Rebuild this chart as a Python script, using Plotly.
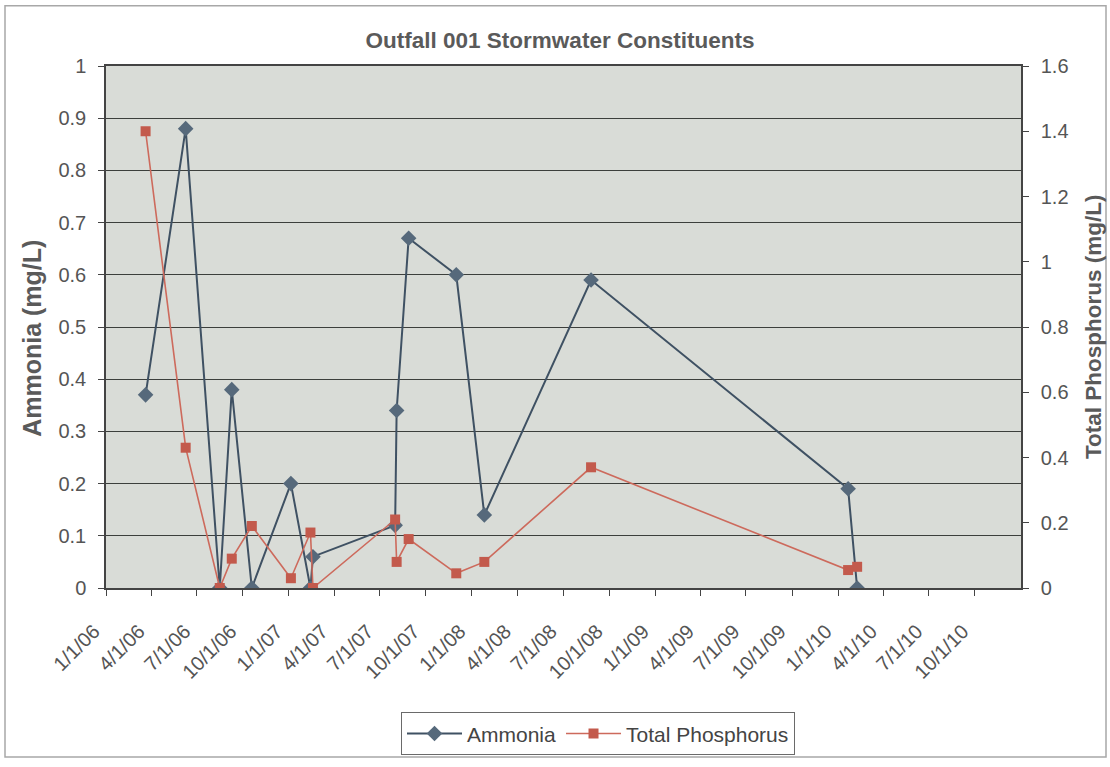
import plotly.graph_objects as go

# Sample dates and measured concentrations (mg/L)
sample_dates = [
    "2006-03-21", "2006-06-09", "2006-08-16", "2006-09-09", "2006-10-19",
    "2007-01-05", "2007-02-13", "2007-02-18", "2007-08-01", "2007-08-04",
    "2007-08-28", "2007-12-01", "2008-01-26", "2008-08-26", "2010-01-21",
    "2010-02-08",
]
ammonia = [0.37, 0.88, 0.0, 0.38, 0.0, 0.20, 0.0, 0.06, 0.12, 0.34,
           0.67, 0.60, 0.14, 0.59, 0.19, 0.0]
total_phosphorus = [1.40, 0.43, 0.0, 0.09, 0.19, 0.03, 0.17, 0.0, 0.21, 0.08,
                    0.15, 0.045, 0.08, 0.37, 0.055, 0.065]

# Quarterly date ticks
tick_dates = [
    "2006-01-01", "2006-04-01", "2006-07-01", "2006-10-01",
    "2007-01-01", "2007-04-01", "2007-07-01", "2007-10-01",
    "2008-01-01", "2008-04-01", "2008-07-01", "2008-10-01",
    "2009-01-01", "2009-04-01", "2009-07-01", "2009-10-01",
    "2010-01-01", "2010-04-01", "2010-07-01", "2010-10-01",
]
tick_labels = [
    "1/1/06", "4/1/06", "7/1/06", "10/1/06",
    "1/1/07", "4/1/07", "7/1/07", "10/1/07",
    "1/1/08", "4/1/08", "7/1/08", "10/1/08",
    "1/1/09", "4/1/09", "7/1/09", "10/1/09",
    "1/1/10", "4/1/10", "7/1/10", "10/1/10",
]

FONT = "Liberation Sans, Arial, sans-serif"
TEXT = "#555555"
AMMONIA_LINE = "#3f5163"
AMMONIA_MARK = "#56697b"
TP_LINE = "#cd6a5c"
TP_MARK = "#c35a4c"

W, H = 1110, 767
L, R, T, B = 106, 89, 66, 173
pw, ph = W - L - R, H - T - B


def px_x(x):
    return (x - L) / pw


def px_y(y):
    return (H - B - y) / ph


fig = go.Figure()
fig.add_trace(go.Scatter(
    x=sample_dates, y=ammonia, name="Ammonia", mode="lines+markers",
    line=dict(color=AMMONIA_LINE, width=2),
    marker=dict(symbol="diamond", size=12, color=AMMONIA_MARK),
    yaxis="y",
))
fig.add_trace(go.Scatter(
    x=sample_dates, y=total_phosphorus, name="Total Phosphorus",
    mode="lines+markers",
    line=dict(color=TP_LINE, width=1.6),
    marker=dict(symbol="square", size=10, color=TP_MARK),
    yaxis="y2",
))

fig.update_layout(
    width=W, height=H,
    margin=dict(l=L, r=R, t=T, b=B),
    paper_bgcolor="white",
    plot_bgcolor="#d9dcd7",
    font=dict(family=FONT, color=TEXT),
    title=dict(
        text="<b>Outfall 001 Stormwater Constituents</b>",
        x=0.5045, xanchor="center", y=1 - 40 / H, yanchor="middle",
        font=dict(size=22.5, color="#5a5a5a"),
    ),
    xaxis=dict(
        type="date",
        range=["2006-01-01", "2011-01-01"],
        tickmode="array", tickvals=tick_dates, ticktext=tick_labels,
        tickangle=-45, tickfont=dict(size=20, color=TEXT),
        ticks="outside", ticklen=6, tickcolor="#444444",
        ticklabelstandoff=16, ticklabelshift=-12,
        showgrid=False, showline=True, linecolor="#444444", linewidth=1.5,
        mirror=True, zeroline=False,
    ),
    yaxis=dict(
        range=[0, 1], dtick=0.1, tickformat="~g",
        tickfont=dict(size=20, color=TEXT),
        ticks="outside", ticklen=6, tickcolor="#444444",
        ticklabelstandoff=8,
        showgrid=True, gridcolor="#3c3f3c", gridwidth=1,
        showline=True, linecolor="#444444", linewidth=1.5, zeroline=False,
    ),
    yaxis2=dict(
        range=[0, 1.6], dtick=0.2, tickformat="~g",
        overlaying="y", side="right",
        tickfont=dict(size=20, color=TEXT),
        ticks="outside", ticklen=6, tickcolor="#444444",
        ticklabelstandoff=8,
        showgrid=False, showline=True, linecolor="#444444", linewidth=1.5,
        zeroline=False,
    ),
    showlegend=True,
    legend=dict(
        orientation="h", x=px_x(598), y=px_y(741.5),
        xanchor="center", yanchor="middle",
        bordercolor="#6a6a6a", borderwidth=1, bgcolor="white",
        font=dict(size=21, color="#444444"),
        itemwidth=55, tracegroupgap=0,
    ),
    annotations=[
        dict(text="<b>Ammonia (mg/L)</b>", textangle=-90,
             xref="paper", yref="paper", x=px_x(32), y=px_y(342),
             xanchor="center", yanchor="middle", showarrow=False,
             font=dict(size=25, color="#5a5a5a")),
        dict(text="<b>Total Phosphorus (mg/L)</b>", textangle=-90,
             xref="paper", yref="paper", x=px_x(1093), y=px_y(330),
             xanchor="center", yanchor="middle", showarrow=False,
             font=dict(size=22.5, color="#5a5a5a")),
    ],
    shapes=[
        dict(type="rect", xref="paper", yref="paper",
             x0=px_x(5), x1=px_x(1106), y0=px_y(765), y1=px_y(5),
             line=dict(color="#a8a8a8", width=1.5), layer="below"),
    ],
)

fig.write_html("out.html")
